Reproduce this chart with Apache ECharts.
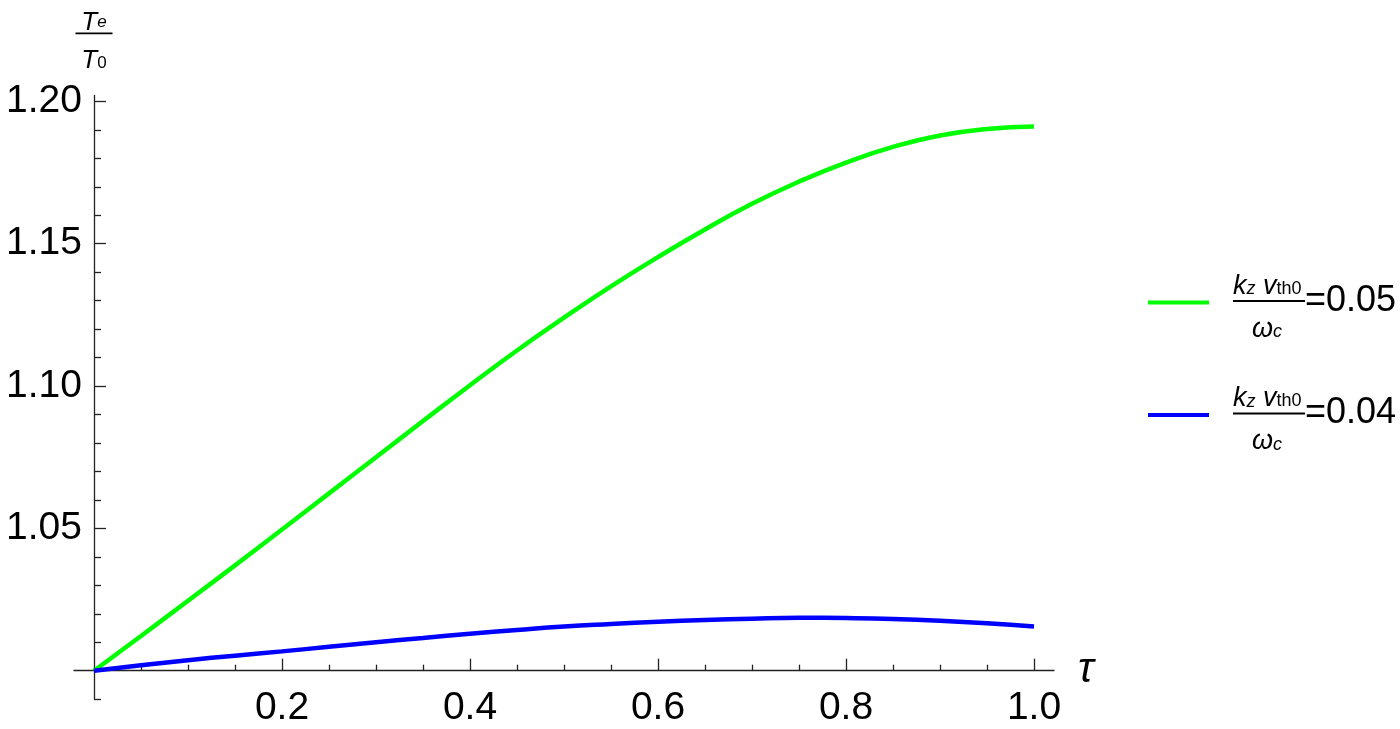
<!DOCTYPE html>
<html><head><meta charset="utf-8">
<script src="https://cdn.jsdelivr.net/npm/echarts@6/dist/echarts.min.js"></script>
<style>html,body{margin:0;padding:0;background:#fff}#c{width:1400px;height:729px}</style>
</head><body><div id="c"></div>
<script>
// ---- data ----
const tau = [0, 0.05, 0.1, 0.15, 0.2, 0.25, 0.3, 0.35, 0.4, 0.45, 0.5, 0.55, 0.6, 0.65, 0.7, 0.75, 0.8, 0.85, 0.9, 0.95, 1.0];
const greenVals = [1.0000, 1.0122, 1.0246, 1.0370, 1.0496, 1.0623, 1.0750, 1.0877, 1.1003, 1.1125, 1.1240, 1.1350, 1.1453, 1.1550, 1.1640, 1.1718, 1.1785, 1.1840, 1.1880, 1.1903, 1.1912];
const blueVals  = [1.0000, 1.0019, 1.0037, 1.0053, 1.0068, 1.0084, 1.0100, 1.0115, 1.0130, 1.0143, 1.0155, 1.0164, 1.0172, 1.0178, 1.0183, 1.0186, 1.0185, 1.0182, 1.0176, 1.0167, 1.0155];
const seriesNames = ['0.05', '0.04'];
const xMajorTicks = [0.2, 0.4, 0.6, 0.8, 1.0];
const xMinorTicks = [0.05, 0.1, 0.15, 0.25, 0.3, 0.35, 0.45, 0.5, 0.55, 0.65, 0.7, 0.75, 0.85, 0.9, 0.95];
const yLabelTicks = [1.05, 1.10, 1.15, 1.20];
const yMinorTicks = [0.99, 1.01, 1.02, 1.03, 1.04, 1.06, 1.07, 1.08, 1.09, 1.11, 1.12, 1.13, 1.14, 1.16, 1.17, 1.18, 1.19];
const xRange = [-0.02128, 1.02128];
const yRange = [0.99, 1.2021];

// ---- chart ----
const axisColor = '#222';
const font = 'Liberation Sans, Arial, sans-serif';
function xAxisBase(extra) {
  return Object.assign({
    type: 'value', min: xRange[0], max: xRange[1], position: 'bottom', offset: -28.5,
    splitLine: { show: false }
  }, extra);
}
function yAxisBase(extra) {
  return Object.assign({
    type: 'value', min: yRange[0], max: yRange[1], position: 'left', offset: -20,
    splitLine: { show: false }
  }, extra);
}
const chart = echarts.init(document.getElementById('c'));
chart.setOption({
  animation: false,
  backgroundColor: '#fff',
  grid: { left: 74, top: 95.4, width: 980, height: 603.8 },
  xAxis: [
    xAxisBase({
      axisLine: { onZero: false, lineStyle: { color: axisColor, width: 1.3 } },
      axisTick: { inside: true, length: 12, customValues: xMajorTicks, lineStyle: { color: axisColor, width: 1.3 } },
      axisLabel: { customValues: xMajorTicks, formatter: v => v.toFixed(1), fontSize: 39, color: '#000', margin: 18, fontFamily: font },
      name: 'τ', nameLocation: 'end', nameGap: 24,
      nameTextStyle: { fontSize: 42, fontStyle: 'italic', color: '#000', fontFamily: font, padding: [6, 0, 0, 0] }
    }),
    xAxisBase({
      axisLine: { show: false },
      axisTick: { inside: true, length: 6, customValues: xMinorTicks, lineStyle: { color: axisColor, width: 1.3 } },
      axisLabel: { show: false }
    })
  ],
  yAxis: [
    yAxisBase({
      axisLine: { onZero: false, lineStyle: { color: axisColor, width: 1.3 } },
      axisTick: { inside: true, length: 12, customValues: yLabelTicks, lineStyle: { color: axisColor, width: 1.3 } },
      axisLabel: { customValues: yLabelTicks, formatter: v => v.toFixed(2), fontSize: 39, color: '#000', margin: 12, fontFamily: font },
      name: '{T|T}{se|e}\n{ybar| }\n{gap| }\n{T2|T}{s0|0}', nameLocation: 'end', nameGap: 24,
      nameTextStyle: {
        color: '#000', fontFamily: font,
        rich: {
          T: { fontSize: 26, fontStyle: 'italic', lineHeight: 16, fontFamily: font },
          se: { fontSize: 17, fontStyle: 'italic', verticalAlign: 'bottom', lineHeight: 16, fontFamily: font },
          T2: { fontSize: 26, fontStyle: 'italic', lineHeight: 22, fontFamily: font },
          s0: { fontSize: 17, verticalAlign: 'bottom', lineHeight: 22, fontFamily: font },
          ybar: { width: 37, height: 1.8, lineHeight: 6, backgroundColor: '#000', fontSize: 4 },
          gap: { lineHeight: 13, fontSize: 4 }
        }
      }
    }),
    yAxisBase({
      axisLine: { show: false },
      axisTick: { inside: true, length: 7, customValues: yMinorTicks, lineStyle: { color: axisColor, width: 1.3 } },
      axisLabel: { show: false }
    })
  ],
  legend: {
    orient: 'vertical', left: 1143, top: 262, itemGap: 37,
    icon: 'rect', itemWidth: 61, itemHeight: 4,
    data: seriesNames,
    formatter: name => `{pad| }\n{sp| }{n|k}{ni|z}{n| v}{nu|th0}\n{sp| }{bar| }{eq|=${name}}\n{gap| }\n{sp2| }{n|ω}{ni|c}`,
    textStyle: {
      color: '#000', fontFamily: font,
      rich: {
        pad: { lineHeight: 10, fontSize: 4 },
        gap: { lineHeight: 13, fontSize: 4 },
        sp: { width: 19, fontSize: 4 },
        sp2: { width: 38, fontSize: 4 },
        n: { fontSize: 27, fontStyle: 'italic', lineHeight: 24, fontFamily: font },
        ni: { fontSize: 18, fontStyle: 'italic', verticalAlign: 'bottom', lineHeight: 24, fontFamily: font },
        nu: { fontSize: 18, verticalAlign: 'bottom', lineHeight: 24, fontFamily: font },
        bar: { width: 72, height: 1.8, lineHeight: 6, backgroundColor: '#000', fontSize: 4 },
        eq: { fontSize: 36, lineHeight: 6, fontFamily: font }
      }
    }
  },
  series: [
    { name: seriesNames[0], type: 'line', showSymbol: false, smooth: true, xAxisIndex: 0, yAxisIndex: 0,
      lineStyle: { color: '#00ff00', width: 4.5 }, itemStyle: { color: '#00ff00' },
      data: tau.map((t, i) => [t, greenVals[i]]) },
    { name: seriesNames[1], type: 'line', showSymbol: false, smooth: true, xAxisIndex: 0, yAxisIndex: 0,
      lineStyle: { color: '#0000ff', width: 4.5 }, itemStyle: { color: '#0000ff' },
      data: tau.map((t, i) => [t, blueVals[i]]) }
  ]
});
</script>
</body></html>
